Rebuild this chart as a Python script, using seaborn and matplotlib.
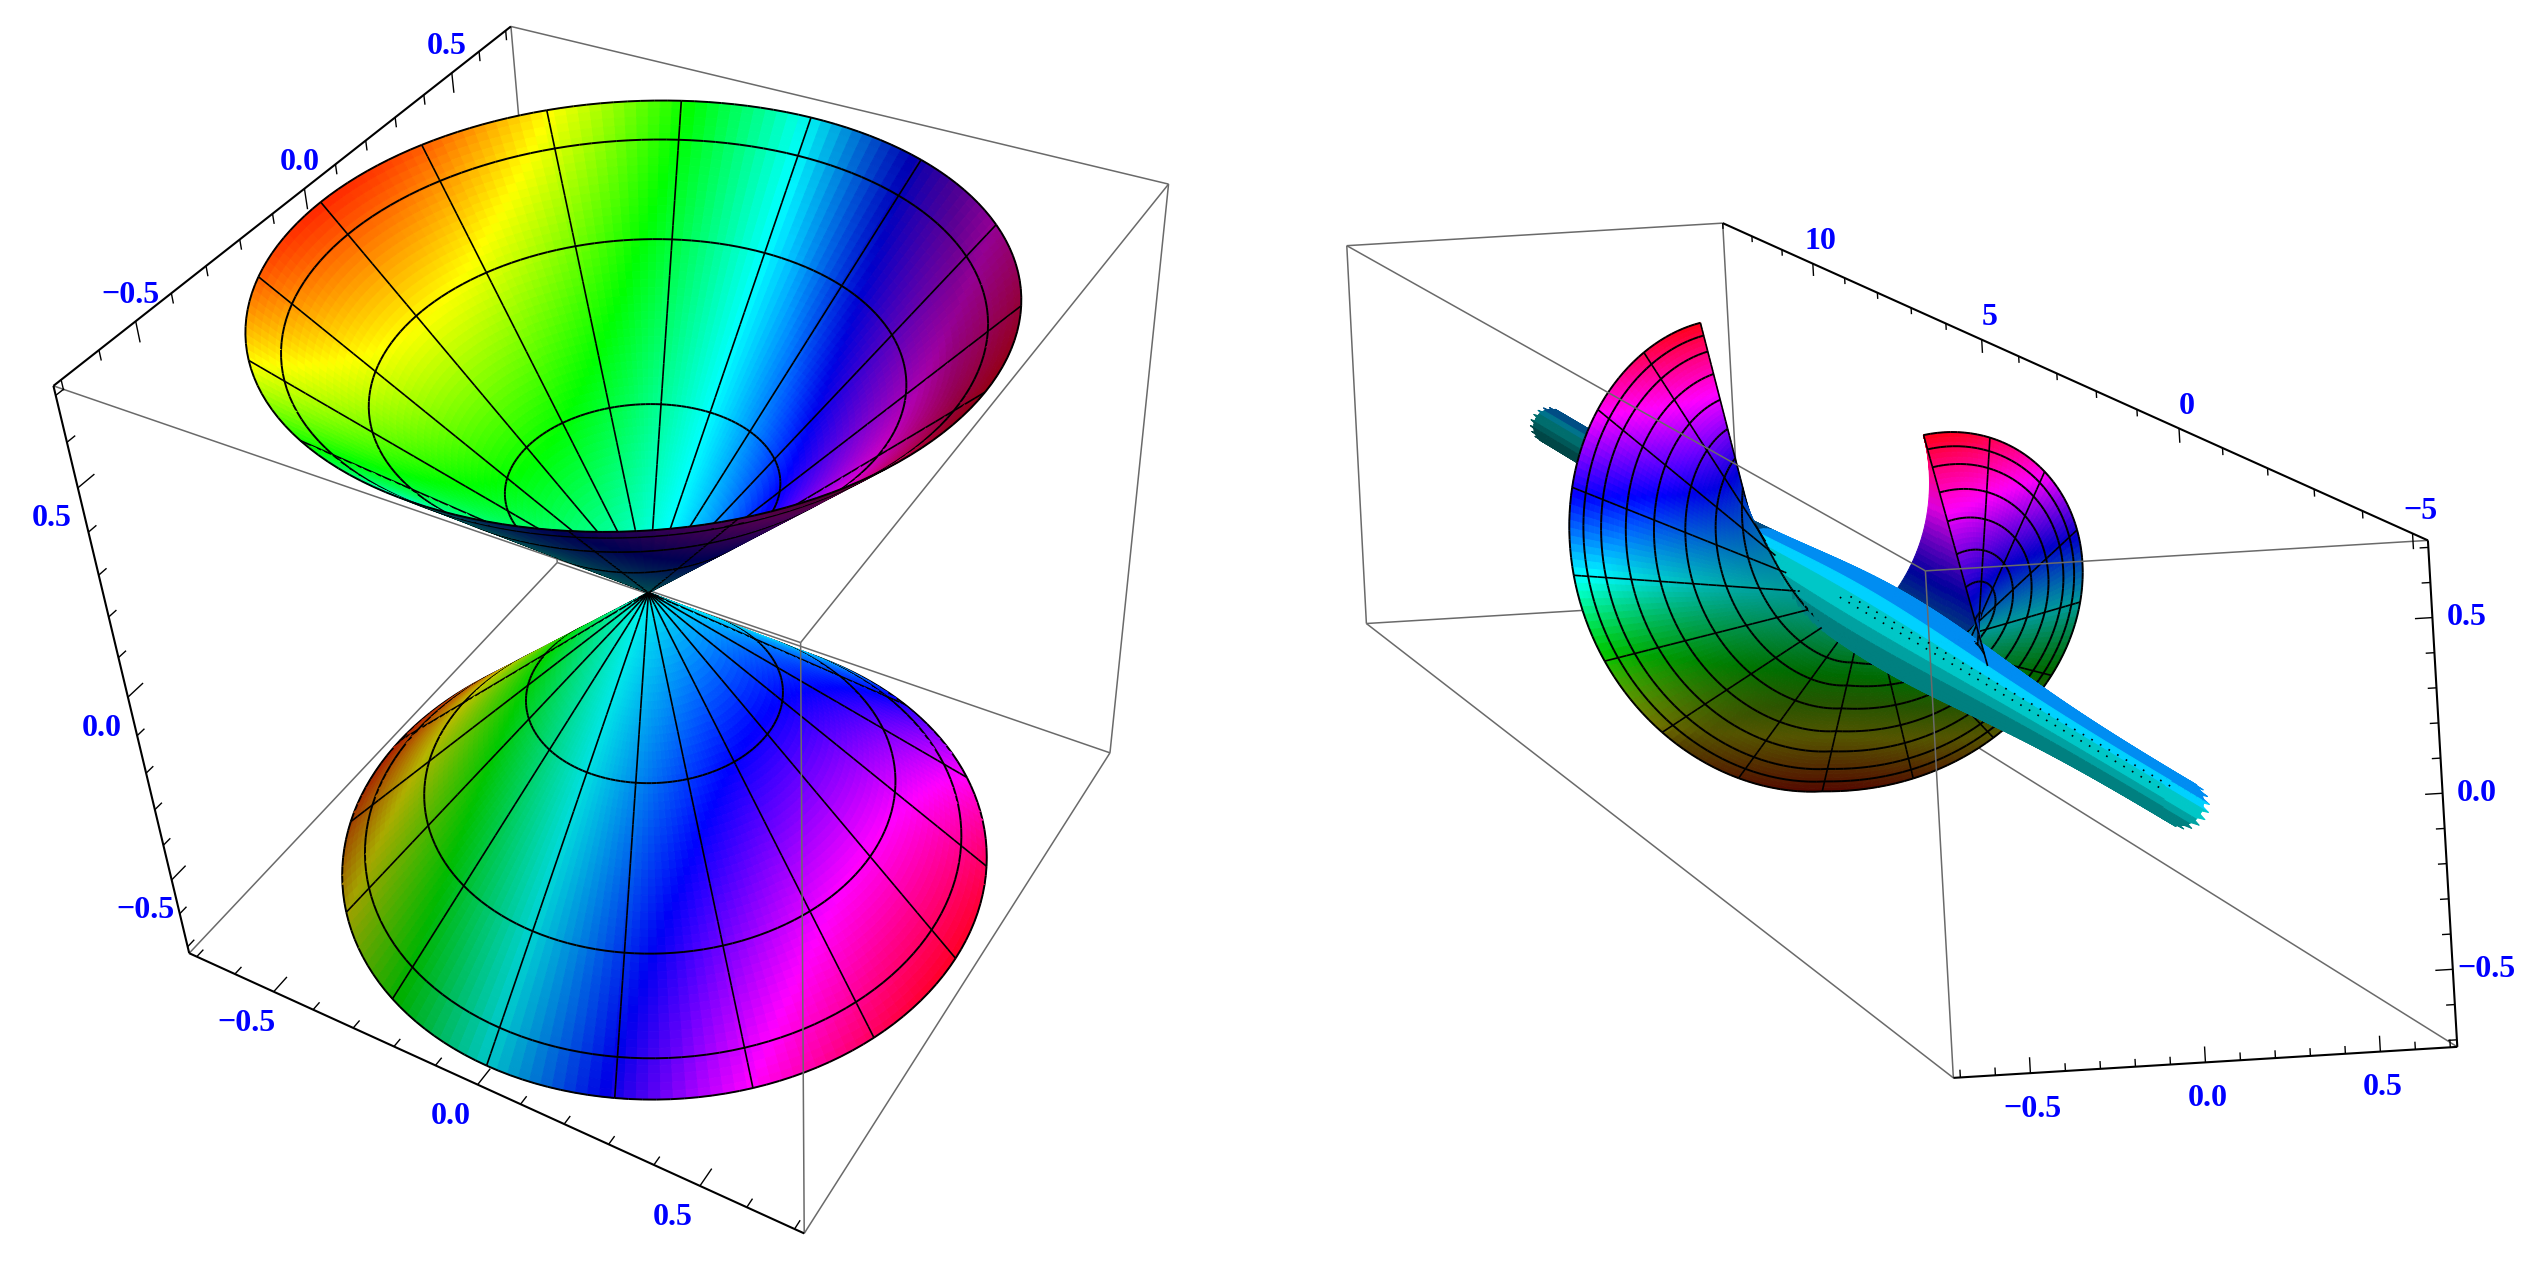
import numpy as np
import matplotlib
matplotlib.use("Agg")
import matplotlib.pyplot as plt
from matplotlib.collections import PolyCollection
from matplotlib.colors import hsv_to_rgb
import seaborn as sns

# ---- tick values and labels
CUBE_TICKS = [-0.7, -0.6, -0.5, -0.4, -0.3, -0.2, -0.1, 0.0, 0.1, 0.2, 0.3, 0.4, 0.5, 0.6, 0.7]
CUBE_MAJOR = [-0.5, 0.0, 0.5]
CUBE_LABELS = ["\u22120.5", "0.0", "0.5"]
LONG_TICKS = list(range(-5, 14))
LONG_MAJOR = [-5, 0, 5, 10]
LONG_LABELS = ["\u22125", "0", "5", "10"]

# ---- surface parameters
BOX_HALF = 0.72
CONE_RIM = 0.685
CONE_TOP = 0.70
CONE_RINGS = [0.26, 0.49, 0.63]
SPOKE_STEP_DEG = 22.5
U_LOW, U_HIGH = -5.3, 13.0
FUNNEL_RIM = 0.70
FUNNEL_RINGS = [0.10, 0.19, 0.28, 0.37, 0.46, 0.54, 0.61, 0.66, 0.70]
FUNNEL_CENTRE = 4.15
FUNNEL_TWIST_FAR = 3.05
FUNNEL_TWIST_NEAR = 3.45
FUNNEL_DEPTH = 1.5
TUBE_END_RADIUS = 0.065
TUBE_BULGE = 0.06

# ---- camera calibration: the 8 cube corners as they appear on the page
L = BOX_HALF
LEFT_3D = np.array([[-L, L, L], [-L, -L, L], [L, L, L], [L, -L, L],
                    [-L, L, -L], [L, L, -L], [L, -L, -L], [-L, -L, -L]])
LEFT_PX = np.array([[513, 26], [52, 386], [1168, 185], [800, 642],
                    [555, 563], [1111, 752], [804, 1234], [191, 953]], float)
RIGHT_3D = np.array([[U_HIGH, -L, L], [U_HIGH, L, L], [U_HIGH, -L, -L], [U_HIGH, L, -L],
                     [U_LOW, -L, L], [U_LOW, L, L], [U_LOW, -L, -L], [U_LOW, L, -L]])
RIGHT_PX = np.array([[1347, 246], [1722, 223], [1366, 623], [1744, 601],
                     [1926, 571], [2428, 540], [1953, 1078], [2457, 1047]], float)


def camera(p3, p2):
    rows = []
    for (x, y, z), (a, b) in zip(p3, p2):
        rows.append([x, y, z, 1, 0, 0, 0, 0, -a * x, -a * y, -a * z, -a])
        rows.append([0, 0, 0, 0, x, y, z, 1, -b * x, -b * y, -b * z, -b])
    P = np.linalg.svd(np.array(rows))[2][-1].reshape(3, 4)
    return P / P[2, 3]


def proj(P, x, y, z):
    x, y, z = np.asarray(x, float), np.asarray(y, float), np.asarray(z, float)
    w = P[2, 0] * x + P[2, 1] * y + P[2, 2] * z + P[2, 3]
    return (P[0, 0] * x + P[0, 1] * y + P[0, 2] * z + P[0, 3]) / w, \
           (P[1, 0] * x + P[1, 1] * y + P[1, 2] * z + P[1, 3]) / w, w


class Scene:
    def __init__(self):
        self.polys, self.face, self.edge, self.lw, self.depth = [], [], [], [], []

    def grid(self, sx, sy, w, rgb, bias=0.0):
        a = np.stack([sx[:-1, :-1], sy[:-1, :-1], sx[1:, :-1], sy[1:, :-1],
                      sx[1:, 1:], sy[1:, 1:], sx[:-1, 1:], sy[:-1, 1:]], -1).reshape(-1, 4, 2)
        d = ((w[:-1, :-1] + w[1:, :-1] + w[1:, 1:] + w[:-1, 1:]) / 4).ravel()
        c = rgb.reshape(-1, 3)
        for p, col, dd in zip(a, c, d):
            self.polys.append(p)
            self.face.append((*col, 1))
            self.edge.append((*col, 1))
            self.lw.append(0.7)
            self.depth.append(dd + bias)

    def line(self, sx, sy, w, lw=1.3, bias=0.004):
        for i in range(len(sx) - 1):
            self.polys.append(np.array([[sx[i], sy[i]], [sx[i + 1], sy[i + 1]]]))
            self.face.append((0, 0, 0, 0))
            self.edge.append((0, 0, 0, 1))
            self.lw.append(lw)
            self.depth.append((w[i] + w[i + 1]) / 2 - bias)

    def draw(self, ax, zorder=2):
        order = np.argsort(-np.array(self.depth), kind="stable")
        pc = PolyCollection([self.polys[i] for i in order], closed=True,
                            facecolors=[self.face[i] for i in order],
                            edgecolors=[self.edge[i] for i in order],
                            linewidths=[self.lw[i] for i in order],
                            antialiased=True, zorder=zorder)
        ax.add_collection(pc)


sns.set_theme(style="white")
plt.rcParams["font.family"] = ["Liberation Serif", "DejaVu Serif"]
fig = plt.figure(figsize=(25.43, 12.66), dpi=100, facecolor="white")
ax = fig.add_axes([0, 0, 1, 1])
ax.set_xlim(0, 2543)
ax.set_ylim(1266, 0)
ax.axis("off")
sns.despine(ax=ax, left=True, bottom=True)

PL = camera(LEFT_3D, LEFT_PX)
PR = camera(RIGHT_3D, RIGHT_PX)
BLUE = (0, 0, 1)
GRAY = "#6a6a6a"


def seg(P, a, b, color, lw, z):
    sx, sy, _ = proj(P, [a[0], b[0]], [a[1], b[1]], [a[2], b[2]])
    ax.plot(sx, sy, color=color, lw=lw, zorder=z, solid_capstyle="butt")


def axis_ticks(P, start, end, ticks, majors, labels, toward, big, small, offs, coord):
    seg(P, start, end, "black", 1.5, 4)
    for t in ticks:
        p = list(start)
        p[coord] = t
        ln = big if t in majors else small
        q = [p[i] + toward[i] * ln for i in range(3)]
        seg(P, p, q, "black", 1.0, 4)
    for t, lab in zip(majors, labels):
        p = list(start)
        p[coord] = t
        sx, sy, _ = proj(P, *p)
        ax.text(sx + offs[0], sy + offs[1], lab, color=BLUE, fontsize=23, fontweight="bold",
                ha="center", va="center", zorder=5)


# ============= left: double cone =============
for a, b, z in [((-L, L, L), (L, L, L), 1), ((L, L, L), (L, L, -L), 1),
                ((-L, -L, L), (L, -L, L), 1), ((L, L, L), (L, -L, L), 1),
                ((-L, L, L), (-L, L, -L), 1), ((-L, -L, -L), (-L, L, -L), 1),
                ((L, L, -L), (-L, L, -L), 1), ((L, -L, -L), (L, L, -L), 1),
                ((L, -L, L), (L, -L, -L), 3)]:
    seg(PL, a, b, GRAY, 1.1, z)
axis_ticks(PL, (-L, -L, L), (-L, L, L), CUBE_TICKS, CUBE_MAJOR, CUBE_LABELS,
           (0, 0, -1), 0.045, 0.022, (-5, -26), 1)
axis_ticks(PL, (-L, -L, L), (-L, -L, -L), CUBE_TICKS, CUBE_MAJOR, CUBE_LABELS,
           (0, 1, 0), 0.045, 0.022, (-26, 31), 2)
axis_ticks(PL, (-L, -L, -L), (L, -L, -L), CUBE_TICKS, CUBE_MAJOR, CUBE_LABELS,
           (0, 1, 0), 0.045, 0.022, (-27, 32), 0)

scene = Scene()
n_phi, n_r = 180, 60
phi = np.linspace(-np.pi, np.pi, n_phi + 1)
rad = np.linspace(0.001, CONE_RIM, n_r + 1)
Ph, Rr = np.meshgrid(phi, rad, indexing="ij")
for sign in (1, -1):
    X, Y, Z = Rr * np.cos(Ph), Rr * np.sin(Ph), sign * CONE_TOP * Rr / CONE_RIM
    sx, sy, w = proj(PL, X, Y, Z)
    sxc = (sx[:-1, :-1] + sx[1:, 1:]) / 2
    Xc = (X[:-1, :-1] + X[1:, 1:]) / 2
    hue = np.clip(0.5 + Xc / (2 * L), 0, 1)
    if sign > 0:
        val = np.clip(1.4 - (sxc - 635) / 390, 0.58, 1)
        area = (sx[1:, :-1] - sx[:-1, :-1]) * (sy[:-1, 1:] - sy[:-1, :-1]) - \
               (sy[1:, :-1] - sy[:-1, :-1]) * (sx[:-1, 1:] - sx[:-1, :-1])
        ref = area[int(n_phi * (135 / 360)), n_r // 2]
        val = np.where(np.sign(area) == np.sign(ref), 0.32, val)
    else:
        val = np.clip(0.95 + 0.35 * (sxc - 650) / 330, 0.55, 1)
    rgb = hsv_to_rgb(np.stack([hue, np.ones_like(hue), val], -1))
    scene.grid(sx, sy, w, rgb)
    for k in np.arange(-8, 8):
        a = np.radians(k * SPOKE_STEP_DEG)
        rr = np.linspace(0.001, CONE_RIM, 40)
        scene.line(*proj(PL, rr * np.cos(a), rr * np.sin(a), sign * CONE_TOP * rr / CONE_RIM), lw=1.2)
    for r0 in CONE_RINGS + [CONE_RIM]:
        aa = np.linspace(-np.pi, np.pi, 161)
        scene.line(*proj(PL, r0 * np.cos(aa), r0 * np.sin(aa),
                         np.full_like(aa, sign * CONE_TOP * r0 / CONE_RIM)), lw=1.4)
scene.draw(ax)

# ============= right: twisted funnel with tube =============
for a, b, z in [((U_HIGH, -L, L), (U_HIGH, L, L), 1), ((U_HIGH, -L, L), (U_HIGH, -L, -L), 1),
                ((U_HIGH, -L, -L), (U_LOW, -L, -L), 1), ((U_HIGH, -L, -L), (U_HIGH, L, -L), 1),
                ((U_HIGH, L, L), (U_HIGH, L, -L), 1), ((U_HIGH, L, -L), (U_LOW, L, -L), 1),
                ((U_HIGH, -L, L), (U_LOW, -L, L), 3), ((U_LOW, -L, L), (U_LOW, L, L), 3),
                ((U_LOW, -L, L), (U_LOW, -L, -L), 3)]:
    seg(PR, a, b, GRAY, 1.1, z)
seg(PR, (U_HIGH, L, L), (U_LOW, L, L), "black", 1.5, 4)
axis_ticks(PR, (0, L, L), (0, L, L), LONG_TICKS, LONG_MAJOR, LONG_LABELS,
           (0, 0, -1), 0.045, 0.022, (8, -22), 0)
axis_ticks(PR, (U_LOW, L, L), (U_LOW, L, -L), CUBE_TICKS, CUBE_MAJOR, CUBE_LABELS,
           (0, -1, 0), 0.05, 0.025, (34, 0), 2)
axis_ticks(PR, (U_LOW, -L, -L), (U_LOW, L, -L), CUBE_TICKS, CUBE_MAJOR, CUBE_LABELS,
           (0, 0, 1), 0.045, 0.022, (2, 36), 1)

scene = Scene()


def funnel(psi, r):
    far = FUNNEL_TWIST_FAR * np.abs(psi / np.pi) ** 1.7
    near = -FUNNEL_TWIST_NEAR * np.abs(psi / np.pi) ** 1.12
    s = np.where(psi > 0, far, near)
    u = FUNNEL_CENTRE + s - FUNNEL_DEPTH * (1 - r / FUNNEL_RIM)
    return u, -r * np.sin(psi), -r * np.cos(psi)


def surface_rgb(W, sxc):
    hue = np.clip((W + L) / (2 * L), 0, 1)
    val = np.clip(0.60 + 0.55 * W / FUNNEL_RIM + 0.5 * np.clip(-(sxc - 1829) / 263, 0, 1) ** 2, 0.33, 1)
    return hsv_to_rgb(np.stack([hue, np.ones_like(hue), val], -1))


psi = np.linspace(-np.pi, np.pi, 181)
rad = np.linspace(TUBE_END_RADIUS, FUNNEL_RIM, 46)
Pp, Rr = np.meshgrid(psi, rad, indexing="ij")
U, V, W = funnel(Pp, Rr)
sx, sy, w = proj(PR, U, V, W)
scene.grid(sx, sy, w, surface_rgb((W[:-1, :-1] + W[1:, 1:]) / 2, (sx[:-1, :-1] + sx[1:, 1:]) / 2))
for k in np.arange(-8, 9):
    a = k * np.radians(SPOKE_STEP_DEG)
    rr = np.linspace(TUBE_END_RADIUS, FUNNEL_RIM, 30)
    scene.line(*proj(PR, *funnel(np.full_like(rr, a), rr)), lw=1.2)
for r0 in FUNNEL_RINGS:
    aa = np.linspace(-np.pi, np.pi, 161)
    scene.line(*proj(PR, *funnel(aa, np.full_like(aa, r0))), lw=1.4)

# folded back sheet behind the near piece's cut
rr = np.linspace(0.10, FUNNEL_RIM, 30)
tt = np.linspace(0, 1, 14)
Rf, Tf = np.meshgrid(rr, tt, indexing="ij")
Ua = funnel(np.full_like(Rf, -np.pi + 1e-3), Rf)[0]
Ub = Ua + Tf * 3.2 * (1 - Rf / FUNNEL_RIM) ** 1.7
sx, sy, w = proj(PR, Ub, 0.0 * Rf, Rf)
Wf = (Rf[:-1, :-1] + Rf[1:, 1:]) / 2
hue = np.clip((Wf + L) / (2 * L), 0, 1)
val = 0.35 + 0.75 * Wf / FUNNEL_RIM
scene.grid(sx, sy, w, hsv_to_rgb(np.stack([hue, np.ones_like(hue), np.clip(val, 0.3, 1)], -1)), bias=0.02)

# tube along the long axis, bulging around the funnel
n_a, n_u = 36, 140
ang = np.linspace(0, 2 * np.pi, n_a + 1)
uu = np.linspace(U_LOW + 0.1, U_HIGH - 0.1, n_u + 1)
Aa, Uu = np.meshgrid(ang, uu, indexing="ij")
Uu = Uu.copy()
jag = np.arange(n_a + 1) % 2
Uu[:, 0] += 0.22 * jag
Uu[:, -1] -= 0.35 * jag
Rt = TUBE_END_RADIUS + TUBE_BULGE * np.exp(-((Uu - 2.0) / 3.5) ** 2)
V, W = Rt * np.cos(Aa), Rt * np.sin(Aa)
sx, sy, w = proj(PR, Uu, V, W)
cx, cy, _ = proj(PR, Uu, 0 * Uu, 0 * Uu)
ex, ey, _ = proj(PR, Uu, 0 * Uu, Rt)
half = np.maximum(np.hypot(ex - cx, ey - cy), 1e-6)
nx, ny = 0.51, -0.86
side = ((sx - cx) * nx + (sy - cy) * ny) / half
side = (side[:-1, :-1] + side[1:, 1:]) / 2
uc = (Uu[:-1, :-1] + Uu[:-1, 1:]) / 2
hue = np.select([side > 0.62, side > 0.2], [0.57, 0.53], 0.5)
val = np.select([side > 0.62, side > 0.2, side > -0.2, side > -0.6], [0.95, 1.0, 0.78, 0.63], 0.5)
val = val * np.where(uc > 5.5, 0.55, 1.0)
scene.grid(sx, sy, w, hsv_to_rgb(np.stack([hue, np.ones_like(hue), val], -1)))
scene.draw(ax)

# dotted mesh traces running along the tube
for off in (0.0, -0.035):
    ut = np.array([3.0, -5.0])
    dx, dy, _ = proj(PR, ut, 0 * ut + off, 0 * ut + 0.03)
    ax.plot(dx, dy, color="black", lw=1.2, ls=(0, (1, 5)), zorder=3)

fig.savefig("out.png", dpi=100, facecolor="white")
